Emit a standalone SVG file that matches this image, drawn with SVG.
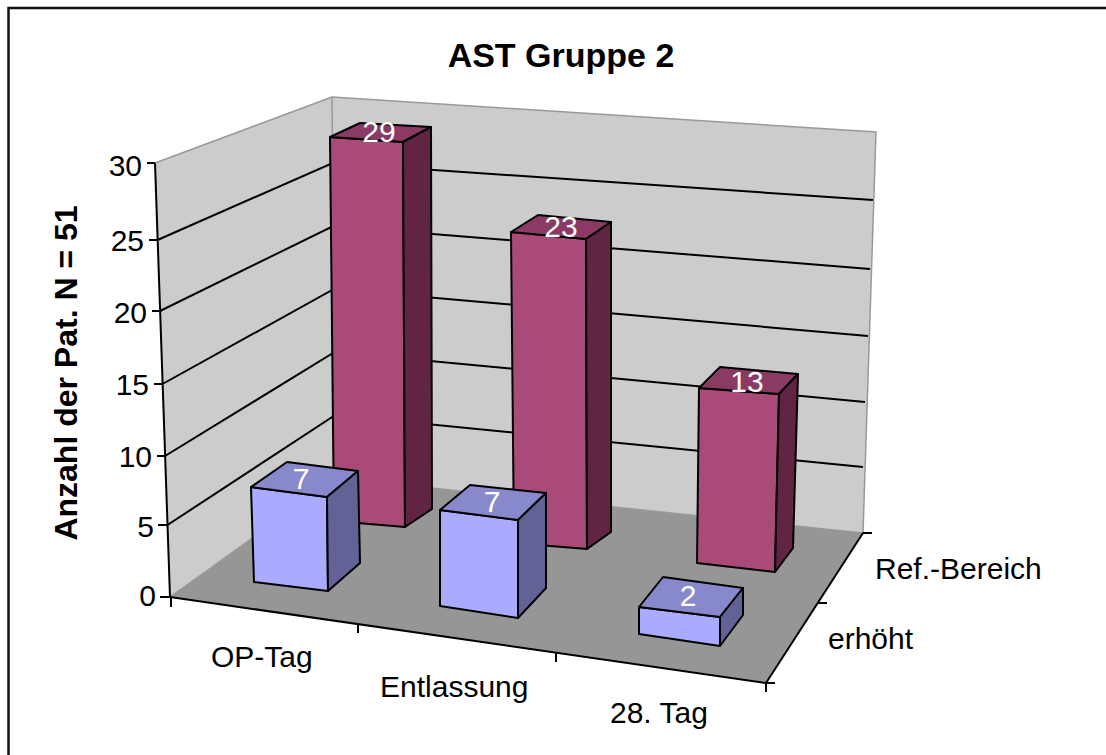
<svg xmlns="http://www.w3.org/2000/svg" width="1106" height="755" viewBox="0 0 1106 755">
<style>
.t{font-family:"Liberation Sans",Arial,sans-serif;font-size:30px;fill:#000}
.h{font-family:"Liberation Sans",Arial,sans-serif;font-weight:bold;fill:#000;text-anchor:middle}
.v{font-family:"Liberation Sans",Arial,sans-serif;font-size:30px;fill:#fff;text-anchor:middle}
.b{stroke:#000;stroke-width:2;stroke-linejoin:round}
.grid{fill:none;stroke:#000;stroke-width:2}
.edge{fill:none;stroke:#999;stroke-width:1.5}
.ax{fill:none;stroke:#000;stroke-width:2}
.rf{fill:#AA4A78}.rt{fill:#8B3A63}.rs{fill:#612443}
.ef{fill:#AAAAFF}.et{fill:#8888CC}.es{fill:#626296}
</style>
<rect x="8.5" y="8" width="1110" height="760" fill="#fff" stroke="#111" stroke-width="2.5"/>
<text class="h" x="561" y="67" style="font-size:34px">AST Gruppe 2</text>
<text class="h" transform="translate(77,373) rotate(-90)" style="font-size:32px">Anzahl der Pat. N = 51</text>
<g id="walls">
<polygon points="155,163 332,97 336,478 170,597" fill="#CCCCCC"/>
<polygon points="332,97 876,132 863,533 336,478" fill="#CCCCCC"/>
<polygon points="170,597 336,478 863,533 766,683" fill="#969696"/>
<polyline class="edge" points="155,163 332,97 876,132 863,533"/>
<line class="edge" x1="332" y1="97" x2="336" y2="478"/>
<polyline class="edge" points="170,597 336,478 863,533"/>
</g>
<g id="gridlines">
<polyline class="grid" points="167.5,525 335.3,415 863,467"/>
<polyline class="grid" points="165,456 334.7,352 865,402"/>
<polyline class="grid" points="162.5,384 334,289 868,336"/>
<polyline class="grid" points="160,311 333.3,226 870,269"/>
<polyline class="grid" points="157.5,240 332.7,163 873,200"/>
</g>
<g id="axes">
<line class="ax" x1="155" y1="163" x2="170" y2="597"/>
<line class="ax" x1="170" y1="597" x2="766" y2="683"/>
<line class="ax" x1="863" y1="533" x2="766" y2="683"/>
<line class="ax" x1="147" y1="163" x2="155" y2="163"/>
<line class="ax" x1="149" y1="240" x2="157.5" y2="240"/>
<line class="ax" x1="152" y1="311" x2="160" y2="311"/>
<line class="ax" x1="154" y1="384" x2="162.5" y2="384"/>
<line class="ax" x1="157" y1="456" x2="165" y2="456"/>
<line class="ax" x1="158" y1="525" x2="167.5" y2="525"/>
<line class="ax" x1="160" y1="597" x2="170" y2="597"/>
<line class="ax" x1="171" y1="597" x2="171" y2="607"/>
<line class="ax" x1="358" y1="624" x2="358" y2="633"/>
<line class="ax" x1="556" y1="653" x2="556" y2="662"/>
<line class="ax" x1="766" y1="683" x2="766" y2="692"/>
<line class="ax" x1="863" y1="533" x2="872" y2="533"/>
<line class="ax" x1="818" y1="603" x2="827" y2="603"/>
<line class="ax" x1="766" y1="683" x2="775" y2="683"/>
</g>
<g id="ylabels">
<text class="t" x="142" y="176" text-anchor="end">30</text>
<text class="t" x="144" y="251" text-anchor="end">25</text>
<text class="t" x="147" y="323" text-anchor="end">20</text>
<text class="t" x="149" y="395" text-anchor="end">15</text>
<text class="t" x="152" y="467" text-anchor="end">10</text>
<text class="t" x="154" y="537" text-anchor="end">5</text>
<text class="t" x="156" y="606" text-anchor="end">0</text>
</g>
<g id="catlabels">
<text class="t" x="211" y="667">OP-Tag</text>
<text class="t" x="380" y="697">Entlassung</text>
<text class="t" x="610" y="723">28. Tag</text>
<text class="t" x="828" y="649">erhöht</text>
<text class="t" x="875" y="579">Ref.-Bereich</text>
</g>
<g id="bar-ref-op">
<polygon class="b rf" points="330,137 403,142 405,527 334,521"/>
<polygon class="b rt" points="330,137 360,123 431,127 403,142"/>
<polygon class="b rs" points="403,142 431,127 432,509 405,527"/>
<text class="v" x="379" y="142">29</text>
</g>
<g id="bar-ref-ent">
<polygon class="b rf" points="511,232 586,239 587,549 514,543"/>
<polygon class="b rt" points="511,232 538,215 611,222 586,239"/>
<polygon class="b rs" points="586,239 611,222 611,532 587,549"/>
<text class="v" x="561" y="237">23</text>
</g>
<g id="bar-ref-28">
<polygon class="b rf" points="699,388 779,394 775,572 697,563"/>
<polygon class="b rt" points="699,388 720,367 798,374 779,394"/>
<polygon class="b rs" points="779,394 798,374 793,548 775,572"/>
<text class="v" x="747" y="392">13</text>
</g>
<g id="bar-erh-op">
<polygon class="b ef" points="251,487 327,497 328,591 254,582"/>
<polygon class="b et" points="251,487 287,462 358,471 327,497"/>
<polygon class="b es" points="327,497 358,471 360,563 328,591"/>
<text class="v" x="301" y="489">7</text>
</g>
<g id="bar-erh-ent">
<polygon class="b ef" points="440,510 518,520 518,618 440,606"/>
<polygon class="b et" points="440,510 470,485 546,493 518,520"/>
<polygon class="b es" points="518,520 546,493 546,588 518,618"/>
<text class="v" x="492" y="512">7</text>
</g>
<g id="bar-erh-28">
<polygon class="b ef" points="639,607 720,617 720,646 639,634"/>
<polygon class="b et" points="639,607 663,577 743,588 720,617"/>
<polygon class="b es" points="720,617 743,588 743,615 720,646"/>
<text class="v" x="688" y="606">2</text>
</g>
</svg>
